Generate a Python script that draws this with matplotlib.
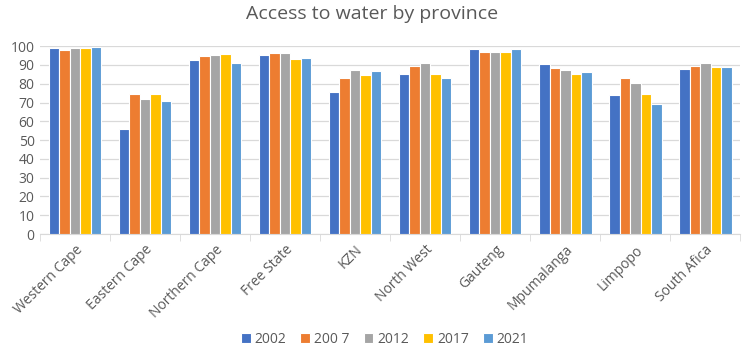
import matplotlib
matplotlib.use("Agg")
import matplotlib.pyplot as plt
import numpy as np

provinces = ["Western Cape", "Eastern Cape", "Northern Cape", "Free State", "KZN",
             "North West", "Gauteng", "Mpumalanga", "Limpopo", "South Afica"]
series_labels = ["2002", "200 7", "2012", "2017", "2021"]
v2002 = [98.8, 56.1, 92.4, 95.4, 75.6, 85.3, 98.2, 90.3, 73.8, 87.8]
v2007 = [98.1, 74.7, 94.5, 96.3, 83.2, 89.6, 97.0, 88.1, 83.2, 89.6]
v2012 = [98.8, 71.7, 95.4, 96.6, 87.4, 91.2, 97.0, 87.3, 80.2, 90.8]
v2017 = [98.8, 74.3, 95.8, 92.9, 84.4, 85.3, 97.0, 85.3, 74.7, 88.7]
v2021 = [99.3, 71.0, 90.8, 93.8, 86.9, 83.0, 98.2, 86.0, 69.2, 88.7]
series = [v2002, v2007, v2012, v2017, v2021]
colors = ["#4472C4", "#ED7D31", "#A5A5A5", "#FFC000", "#5B9BD5"]

plt.rcParams['font.family'] = ['Open Sans', 'DejaVu Sans']
fig = plt.figure(figsize=(7.44, 3.52), dpi=100)
ax = fig.add_axes([0.054, 0.335, 0.941, 0.534])

x = np.arange(len(provinces))
w = 0.15
for i, (vals, c, lab) in enumerate(zip(series, colors, series_labels)):
    ax.bar(x + (i - 2) * w, vals, width=w, color=c, edgecolor="white",
           linewidth=0.8, label=lab, zorder=3)

ax.set_xlim(-0.5, len(provinces) - 0.5)
ax.set_ylim(0, 100)
ax.set_yticks(np.arange(0, 101, 10))
ax.yaxis.grid(True, color="#D9D9D9", linewidth=0.9, zorder=0)
for s in ["top", "right", "left"]:
    ax.spines[s].set_visible(False)
ax.spines["bottom"].set_color("#D9D9D9")
ax.tick_params(axis="y", length=0, labelsize=10, labelcolor="#595959", pad=4)
ax.set_xticks(x)
ax.set_xticklabels(provinces, rotation=45, ha="right", rotation_mode="anchor",
                   fontsize=10, color="#595959")
ax.tick_params(axis="x", length=0, pad=6)
ax.set_xticks(np.arange(-0.5, len(provinces), 1), minor=True)
ax.tick_params(axis="x", which="minor", length=5, color="#D9D9D9")

fig.text(0.5, 0.96, "Access to water by province", ha="center", va="center",
         fontsize=14, color="#595959")
fig.legend(loc="center", bbox_to_anchor=(0.517, 0.035), ncol=5, frameon=False,
           fontsize=10, handlelength=0.7, handleheight=0.7, columnspacing=1.0,
           handletextpad=0.3, labelcolor="#595959")

fig.savefig("out.png", dpi=100)
